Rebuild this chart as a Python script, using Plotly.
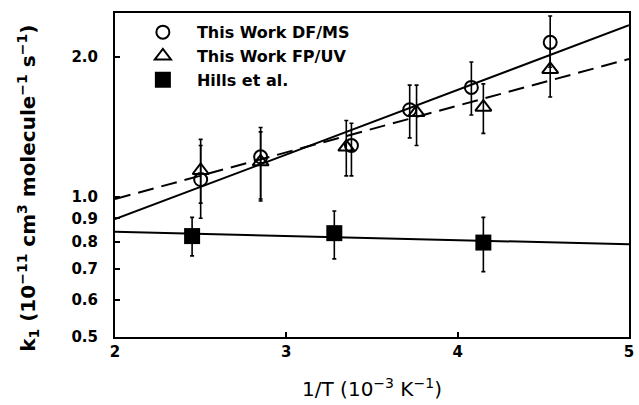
import numpy as np
import plotly.graph_objects as go

# DF/MS (circles)
x_dfms = [2.50, 2.85, 3.38, 3.72, 4.08, 4.54]
k_dfms = [1.09, 1.22, 1.29, 1.54, 1.72, 2.15]
hi_dfms = [1.29, 1.38, 1.44, 1.74, 1.95, 2.45]
lo_dfms = [0.90, 0.98, 1.11, 1.34, 1.50, 1.90]

# FP/UV (triangles)
x_fpuv = [2.50, 2.85, 3.35, 3.76, 4.15, 4.54]
k_fpuv = [1.14, 1.19, 1.28, 1.52, 1.56, 1.88]
hi_fpuv = [1.33, 1.41, 1.46, 1.74, 1.75, 2.08]
lo_fpuv = [0.97, 0.99, 1.11, 1.29, 1.37, 1.64]

# Hills et al. (squares)
x_hills = [2.45, 3.28, 4.15]
k_hills = [0.824, 0.836, 0.798]
hi_hills = [0.904, 0.933, 0.904]
lo_hills = [0.747, 0.736, 0.691]

# Arrhenius fit lines (end values)
x_fit = [2.0, 5.0]
fit_dfms = [0.896, 2.34]
fit_fpuv = [0.99, 1.98]
fit_hills = [0.842, 0.791]

y_ticks = [0.5, 0.6, 0.7, 0.8, 0.9, 1.0, 2.0]
y_ticktext = ["0.5", "0.6", "0.7", "0.8", "0.9", "1.0", "2.0"]
x_ticks = [2, 3, 4, 5]

FONT = "DejaVu Sans"


def err(k, hi, lo):
    k = np.array(k); hi = np.array(hi); lo = np.array(lo)
    return dict(type="data", symmetric=False, array=hi - k, arrayminus=k - lo,
                color="black", thickness=1.6, width=2)


fig = go.Figure()

# fit lines
fig.add_trace(go.Scatter(x=x_fit, y=fit_dfms, mode="lines", showlegend=False,
                         line=dict(color="black", width=2)))
fig.add_trace(go.Scatter(x=x_fit, y=fit_fpuv, mode="lines", showlegend=False,
                         line=dict(color="black", width=2, dash="16px,8px")))
fig.add_trace(go.Scatter(x=x_fit, y=fit_hills, mode="lines", showlegend=False,
                         line=dict(color="black", width=2)))

fig.add_trace(go.Scatter(x=x_dfms, y=k_dfms, mode="markers", name="This Work DF/MS",
                         error_y=err(k_dfms, hi_dfms, lo_dfms),
                         marker=dict(symbol="circle-open", size=13, color="black",
                                     line=dict(width=2, color="black"))))
fig.add_trace(go.Scatter(x=x_fpuv, y=k_fpuv, mode="markers", name="This Work FP/UV",
                         error_y=err(k_fpuv, hi_fpuv, lo_fpuv),
                         marker=dict(symbol="triangle-up-open", size=14, color="black",
                                     line=dict(width=2, color="black"))))
fig.add_trace(go.Scatter(x=x_hills, y=k_hills, mode="markers", name="Hills et al.",
                         error_y=err(k_hills, hi_hills, lo_hills),
                         marker=dict(symbol="square", size=16, color="black",
                                     line=dict(width=0))))

fig.update_layout(
    width=639, height=405,
    margin=dict(l=115, r=5, t=13, b=68),
    paper_bgcolor="white", plot_bgcolor="white",
    font=dict(family=FONT, color="black", size=14, weight="bold"),
    legend=dict(x=0.027, y=0.993, xanchor="left", yanchor="top",
                bgcolor="rgba(0,0,0,0)", itemwidth=58,
                font=dict(family=FONT, size=16, weight="bold"),
                tracegroupgap=0),
    xaxis=dict(range=[2, 5], tickvals=x_ticks, ticks="inside", ticklen=5,
               tickwidth=1.5, tickcolor="black", showgrid=False, zeroline=False,
               showline=True, linecolor="black", linewidth=2, mirror=True,
               ticklabelstandoff=0, ticklabeloverflow="allow",
               tickfont=dict(family=FONT, size=15, weight="bold"),
               title=dict(text="1/T (10<sup>−3</sup> K<sup>−1</sup>)", standoff=22,
                          font=dict(family=FONT, size=20, weight="normal"))),
    yaxis=dict(type="log", range=[np.log10(0.5), np.log10(2.486)],
               tickvals=y_ticks, ticktext=y_ticktext, ticks="inside", ticklen=5,
               tickwidth=1.5, tickcolor="black", showgrid=False, zeroline=False,
               showline=True, linecolor="black", linewidth=2, mirror=True,
               ticklabelstandoff=12,
               tickfont=dict(family=FONT, size=15, weight="bold")),
    annotations=[dict(
        text="k<sub>1</sub> (10<sup>−11</sup> cm<sup>3</sup> molecule<sup>−1</sup> s<sup>−1</sup>)",
        xref="paper", yref="paper", x=-0.1676, y=0.46, xanchor="center", yanchor="middle",
        textangle=-90, showarrow=False,
        font=dict(family=FONT, size=20, weight="bold"))],
)

fig.write_html("out.html", config={"displayModeBar": False},
               post_script="document.body.style.margin='0';")
